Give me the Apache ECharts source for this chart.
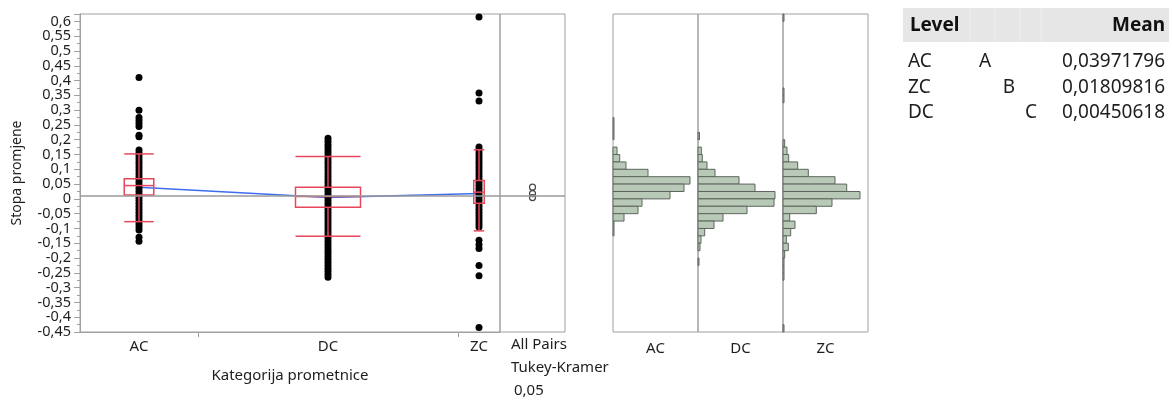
<!DOCTYPE html>
<html><head><meta charset="utf-8">
<script src="https://cdn.jsdelivr.net/npm/echarts@6/dist/echarts.min.js"></script>
<style>html,body{margin:0;padding:0;background:#fff}#c{width:1172px;height:401px}</style>
</head><body><div id="c"></div>
<script>
// ---------- data ----------
const categories = ['AC', 'DC', 'ZC'];
const groupWidths = [118, 260, 42];            // relative width of each level on the x axis
const pointsAC = [0.41, 0.30, 0.275, 0.265, 0.255, 0.245, 0.215, 0.21,
  0.165, 0.155, 0.145, 0.135, 0.125, 0.115, 0.105, 0.095, 0.085, 0.075, 0.065, 0.055,
  0.045, 0.035, 0.025, 0.015, 0.005, -0.005, -0.015, -0.025, -0.035, -0.045, -0.055,
  -0.065, -0.075, -0.085, -0.095, -0.105, -0.13, -0.143];
const pointsDC = [0.205, 0.195, 0.185, 0.175, 0.165, 0.155, 0.145, 0.135, 0.125, 0.115,
  0.105, 0.095, 0.085, 0.075, 0.065, 0.055, 0.045, 0.035, 0.025, 0.015, 0.005, -0.005,
  -0.015, -0.025, -0.035, -0.045, -0.055, -0.065, -0.075, -0.085, -0.095, -0.105, -0.115,
  -0.125, -0.135, -0.145, -0.155, -0.165, -0.175, -0.185, -0.195, -0.205, -0.215, -0.225,
  -0.235, -0.245, -0.255, -0.265];
const pointsZC = [0.615, 0.358, 0.331, 0.175, 0.165, 0.155, 0.145, 0.135, 0.125, 0.115,
  0.105, 0.095, 0.085, 0.075, 0.065, 0.055, 0.045, 0.035, 0.025, 0.015, 0.005, -0.005,
  -0.015, -0.025, -0.035, -0.045, -0.055, -0.065, -0.075, -0.085, -0.095, -0.14, -0.155,
  -0.168, -0.225, -0.26, -0.435];
const boxQ1 = [0.0135, -0.028, -0.0146];
const boxMedian = [0.045, 0.0078, 0.0227];
const boxQ3 = [0.0677, 0.0396, 0.062];
const whiskerLow = [-0.077, -0.126, -0.108];
const whiskerHigh = [0.152, 0.143, 0.166];
const levelMeans = [0.03971796, 0.00450618, 0.01809816];   // AC, DC, ZC
const grandMean = 0.014;
const histBinWidth = 0.025;
const histBinLows = [0.6, 0.575, 0.55, 0.525, 0.5, 0.475, 0.45, 0.425, 0.4, 0.375, 0.35,
  0.325, 0.3, 0.275, 0.25, 0.225, 0.2, 0.175, 0.15, 0.125, 0.1, 0.075, 0.05, 0.025, 0,
  -0.025, -0.05, -0.075, -0.1, -0.125, -0.15, -0.175, -0.2, -0.225, -0.25, -0.275, -0.3,
  -0.325, -0.35, -0.375, -0.4, -0.425, -0.45];
const histAC = [0,0,0,0,0,0,0,0,0,0,0,0,0,0, 1,1,1,0,4,6.7,13,35,77,71,57,29,25,11,1,1, 0,0,0,0,0,0,0,0,0,0,0,0,0];
const histDC = [0,0,0,0,0,0,0,0,0,0,0,0,0,0,0,0, 1.5,0,3.3,4.3,9,17,41,57,77,76,49,25,16,6.7,3,2,0,1, 0,0,0,0,0,0,0,0,0];
const histZC = [1, 0,0,0,0,0,0,0,0,0, 1,1, 0,0,0,0,0, 1.7,4,5.7,14.7,25.3,52,63.7,77,49,33.3,6.7,12,7.7,3.3,5.3,1.7,1,1,1, 0,0,0,0,0,0, 1];
const yTickValues = [-0.45, -0.4, -0.35, -0.3, -0.25, -0.2, -0.15, -0.1, -0.05, 0,
  0.05, 0.1, 0.15, 0.2, 0.25, 0.3, 0.35, 0.4, 0.45, 0.5, 0.55, 0.6];
const tableLevels = ['AC', 'ZC', 'DC'];
const tableLetters = ['A', 'B', 'C'];
const tableMeans = [0.03971796, 0.01809816, 0.00450618];
const comparisonLabels = ['All Pairs', 'Tukey-Kramer', '0,05'];
const yMin = -0.45, yMax = 0.625, yStep = 0.05;

// ---------- derived ----------
const centers = [], bounds = [];
let acc = 0;
groupWidths.forEach((w, i) => { centers.push(acc + w / 2); acc += w; if (i < groupWidths.length - 1) bounds.push(acc); });
const xTotal = acc;
const pointSets = [pointsAC, pointsDC, pointsZC];
const hists = [histAC, histDC, histZC];
// tick labels are split over two overlaid axes so the library never hides a crowded one
const yLabelsA = yTickValues.filter((v, i) => i % 2 === 0);
const yLabelsB = yTickValues.filter((v, i) => i % 2 === 1);

const FONT = '"Noto Sans", "Open Sans", sans-serif';
const AXIS_GRAY = '#A0A0A0';
const TXT = '#1e1e1e';
const RED = '#E8475B';

const fmtY = v => { const r = Math.round(v * 100) / 100; return (r === 0 ? '0' : String(r)).replace('.', ','); };

const chart = echarts.init(document.getElementById('c'), null, { renderer: 'canvas' });

const gridTop = 14, gridH = 318;
const grids = [
  { left: 80, top: gridTop, width: 420, height: gridH },
  { left: 500, top: gridTop, width: 65, height: gridH },
  { left: 613, top: gridTop, width: 85, height: gridH },
  { left: 698, top: gridTop, width: 85, height: gridH },
  { left: 783, top: gridTop, width: 85, height: gridH }
].map(g => Object.assign(g, { show: true, borderColor: AXIS_GRAY, borderWidth: 1, containLabel: false }));

const hiddenY = i => ({ type: 'value', gridIndex: i, min: yMin, max: yMax, show: true,
  axisLine: { show: false }, axisTick: { show: false }, axisLabel: { show: false }, splitLine: { show: false } });

const xAxes = [
  { type: 'value', gridIndex: 0, min: 0, max: xTotal,
    axisLine: { show: true, onZero: false, lineStyle: { color: AXIS_GRAY } },
    axisTick: { show: true, customValues: bounds, length: 5, lineStyle: { color: AXIS_GRAY } },
    axisLabel: { show: true, customValues: centers, margin: 7, color: TXT, fontSize: 15, fontFamily: FONT,
      formatter: v => { let k = 0; centers.forEach((c, i) => { if (Math.abs(c - v) < Math.abs(centers[k] - v)) k = i; }); return categories[k]; } },
    splitLine: { show: false },
    name: 'Kategorija prometnice', nameLocation: 'middle', nameGap: 36, nameMoveOverlap: false,
    nameTextStyle: { color: TXT, fontSize: 15, fontFamily: FONT } },
  { type: 'value', gridIndex: 1, min: 0, max: 1, axisLine: { show: false, onZero: false }, axisTick: { show: false },
    axisLabel: { show: false }, splitLine: { show: false } }
];
categories.forEach((c, i) => xAxes.push({ type: 'value', gridIndex: 2 + i, min: 0, max: 85,
  axisLine: { show: false, onZero: false }, axisTick: { show: false }, axisLabel: { show: false }, splitLine: { show: false },
  name: c, nameLocation: 'middle', nameGap: 9, nameMoveOverlap: false,
  nameTextStyle: { color: TXT, fontSize: 15, fontFamily: FONT } }));

const labelStyle = { show: true, showMinLabel: true, showMaxLabel: true, hideOverlap: false, margin: 9,
  color: TXT, fontSize: 14.5, fontFamily: FONT, formatter: fmtY };
const yAxes = [
  { type: 'value', gridIndex: 0, position: 'left', min: yMin, max: yMax, interval: yStep,
    axisLine: { show: true, onZero: false, lineStyle: { color: AXIS_GRAY } },
    axisTick: { show: true, length: 6, lineStyle: { color: AXIS_GRAY } },
    minorTick: { show: true, splitNumber: 2, length: 3, lineStyle: { color: AXIS_GRAY } },
    axisLabel: Object.assign({ customValues: yLabelsA }, labelStyle),
    splitLine: { show: false }, minorSplitLine: { show: false },
    name: 'Stopa promjene', nameLocation: 'middle', nameGap: 56, nameRotate: 90, nameMoveOverlap: false,
    nameTextStyle: { color: TXT, fontSize: 14, fontFamily: FONT } },
  hiddenY(1), hiddenY(2), hiddenY(3), hiddenY(4),
  { type: 'value', gridIndex: 0, position: 'left', offset: 0, min: yMin, max: yMax,
    axisLine: { show: false, onZero: false }, axisTick: { show: false },
    axisLabel: Object.assign({ customValues: yLabelsB }, labelStyle),
    splitLine: { show: false } }
];

const grandLine = { silent: true, symbol: 'none', label: { show: false },
  lineStyle: { color: '#9a9a9a', width: 1.5, type: 'solid' }, data: [{ yAxis: grandMean }], animation: false };

const series = [];
// dots
pointSets.forEach((pts, i) => series.push({
  type: 'scatter', xAxisIndex: 0, yAxisIndex: 0, z: 3, symbol: 'circle', symbolSize: 7,
  itemStyle: { color: '#000', opacity: 1 }, data: pts.map(v => [centers[i], v]),
  markLine: i === 0 ? grandLine : undefined
}));
// mean connecting line
series.push({ type: 'line', xAxisIndex: 0, yAxisIndex: 0, z: 2, symbol: 'none',
  lineStyle: { color: '#3E6EEE', width: 1.5 }, data: levelMeans.map((m, i) => [centers[i], m]) });
// box plots
series.push({ type: 'custom', xAxisIndex: 0, yAxisIndex: 0, z: 4,
  data: categories.map((c, i) => [centers[i], boxQ1[i], boxMedian[i], boxQ3[i], whiskerLow[i], whiskerHigh[i], groupWidths[i]]),
  renderItem: (params, api) => {
    const cx = api.value(0), q1 = api.value(1), md = api.value(2), q3 = api.value(3), lo = api.value(4), hi = api.value(5);
    const half = api.value(6) * 0.125;
    const tl = api.coord([cx - half, q3]), br = api.coord([cx + half, q1]);
    const m = api.coord([cx, md])[1], yh = api.coord([cx, hi])[1], yl = api.coord([cx, lo])[1];
    const xc = api.coord([cx, md])[0];
    const st = { stroke: RED, lineWidth: 1.5, fill: null };
    const ln = (x1, y1, x2, y2) => ({ type: 'line', shape: { x1, y1, x2, y2 }, style: st });
    return { type: 'group', children: [
      { type: 'rect', shape: { x: tl[0], y: tl[1], width: br[0] - tl[0], height: br[1] - tl[1] }, style: st },
      ln(tl[0], m, br[0], m),
      ln(xc, yh, xc, tl[1]), ln(xc, br[1], xc, yl),
      ln(tl[0], yh, br[0], yh), ln(tl[0], yl, br[0], yl)
    ] };
  } });
// comparison circles
series.push({ type: 'scatter', xAxisIndex: 1, yAxisIndex: 1, z: 3, symbol: 'circle', symbolSize: 6,
  itemStyle: { color: 'rgba(255,255,255,0)', borderColor: '#444', borderWidth: 1.2, opacity: 1 },
  data: levelMeans.map(m => [0.5, m]), markLine: grandLine });
// histograms
hists.forEach((h, i) => series.push({ type: 'custom', xAxisIndex: 2 + i, yAxisIndex: 2 + i, z: 3,
  data: histBinLows.map((b, k) => [b, h[k]]).filter(d => d[1] > 0),
  renderItem: (params, api) => {
    const lowV = api.value(0), cnt = api.value(1);
    const p0 = api.coord([0, lowV + histBinWidth]), p1 = api.coord([cnt, lowV]);
    return { type: 'rect', shape: { x: p0[0], y: p0[1], width: p1[0] - p0[0], height: p1[1] - p0[1] },
      style: { fill: '#B9C9B8', stroke: '#5C665C', lineWidth: 1 } };
  } }));

// table + comparison text
const graphics = [];
graphics.push({ type: 'rect', shape: { x: 903, y: 8, width: 266, height: 34 }, style: { fill: '#E6E6E6' }, silent: true });
[970, 995, 1020, 1041].forEach(x => graphics.push({ type: 'line', shape: { x1: x, y1: 8, x2: x, y2: 42 }, style: { stroke: '#EFEFEF', lineWidth: 1 } }));
graphics.push({ type: 'text', style: { x: 910, y: 26, text: 'Level', font: 'bold 19px ' + FONT, fill: '#111', textAlign: 'left', textVerticalAlign: 'middle' } });
graphics.push({ type: 'text', style: { x: 1165, y: 26, text: 'Mean', font: 'bold 19px ' + FONT, fill: '#111', textAlign: 'right', textVerticalAlign: 'middle' } });
const letterX = [985, 1009, 1031];
tableLevels.forEach((lv, i) => {
  const y = 62 + i * 25.5;
  graphics.push({ type: 'text', style: { x: 908, y, text: lv, font: '19px ' + FONT, fill: TXT, textAlign: 'left', textVerticalAlign: 'middle' } });
  graphics.push({ type: 'text', style: { x: letterX[i], y, text: tableLetters[i], font: '19px ' + FONT, fill: TXT, textAlign: 'center', textVerticalAlign: 'middle' } });
  graphics.push({ type: 'text', style: { x: 1165, y, text: tableMeans[i].toFixed(8).replace('.', ','), font: '19px ' + FONT, fill: TXT, textAlign: 'right', textVerticalAlign: 'middle' } });
});
comparisonLabels.forEach((t, i) => graphics.push({ type: 'text', style: { x: i === 2 ? 514 : 511, y: 345 + i * 23, text: t, font: '15px ' + FONT, fill: TXT, textAlign: 'left', textVerticalAlign: 'middle' } }));

chart.setOption({
  animation: false,
  backgroundColor: '#fff',
  grid: grids, xAxis: xAxes, yAxis: yAxes, series: series, graphic: graphics
});
</script></body></html>
